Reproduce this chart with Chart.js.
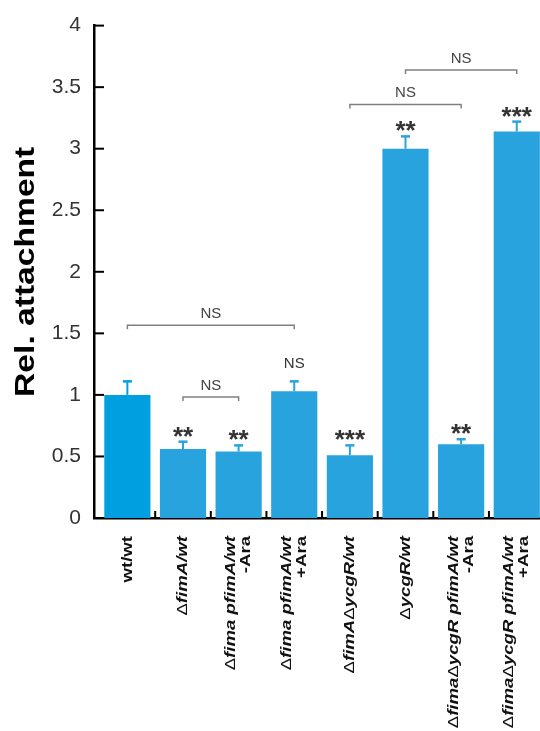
<!DOCTYPE html>
<html>
<head>
<meta charset="utf-8">
<script src="https://cdn.jsdelivr.net/npm/chart.js@4.4.1/dist/chart.umd.min.js"></script>
<style>
  html, body { margin: 0; padding: 0; background: #fff; overflow: hidden; width: 540px; height: 731px; }
  #wrap { width: 550px; height: 731px; }
</style>
</head>
<body>
<div id="wrap"><canvas id="c" width="550" height="731"></canvas></div>
<script>
// Strain / plasmid combinations (each entry = lines of the axis label)
const strains = [
  ['wt/wt'],
  ['\u0394fimA/wt'],
  ['\u0394fima pfimA/wt', '-Ara'],
  ['\u0394fima pfimA/wt', '+Ara'],
  ['\u0394fimA\u0394ycgR/wt'],
  ['\u0394ycgR/wt'],
  ['\u0394fima\u0394ycgR pfimA/wt', '-Ara'],
  ['\u0394fima\u0394ycgR pfimA/wt', '+Ara']
];
// Relative attachment (mean) and error
const attachment    = [1.00, 0.56, 0.54, 1.03, 0.51, 3.00, 0.60, 3.14];
const attachmentErr = [0.11, 0.06, 0.05, 0.08, 0.08, 0.10, 0.04, 0.08];
// Significance vs wt/wt
const significance = ['', '**', '**', 'NS', '***', '**', '**', '***'];
// Pairwise comparisons: bar indices, bracket level (axis units), label
const comparisonPairs  = [[0, 3], [1, 2], [4, 6], [5, 7]];
const comparisonLevels = [1.566, 0.982, 3.36, 3.64];
const comparisonLabels = ['NS', 'NS', 'NS', 'NS'];
// y-axis ticks
const yTicks = [0, 0.5, 1, 1.5, 2, 2.5, 3, 3.5, 4];
const yTitle = 'Rel. attachment';

const FONT = "'Liberation Sans', Arial, Helvetica, sans-serif";
const barColors = strains.map((_, i) => i === 0 ? '#009fe0' : '#29a3dd');

function labelRuns(line) {
  if (line === 'wt/wt' || /^[-+]Ara$/.test(line)) {
    return [{ text: line, font: `bold 15px ${FONT}` }];
  }
  const runs = [];
  line.split(/(\u0394)/).forEach(part => {
    if (!part) return;
    if (part === '\u0394') runs.push({ text: part, font: `15px ${FONT}` });
    else runs.push({ text: part, font: `italic bold 15px ${FONT}` });
  });
  return runs;
}

const overlay = {
  id: 'overlay',
  afterDatasetsDraw(chart) {
    const ctx = chart.ctx;
    const xs = chart.scales.x, ys = chart.scales.y;
    const area = chart.chartArea;

    // error bars
    attachment.forEach((v, i) => {
      const x = xs.getPixelForValue(i);
      const y0 = ys.getPixelForValue(v);
      const y1 = ys.getPixelForValue(v + attachmentErr[i]);
      ctx.save();
      ctx.strokeStyle = barColors[i];
      ctx.lineWidth = 2;
      ctx.beginPath(); ctx.moveTo(x, y0); ctx.lineTo(x, y1); ctx.stroke();
      ctx.lineWidth = 2.5;
      ctx.beginPath(); ctx.moveTo(x - 4.5, y1); ctx.lineTo(x + 4.5, y1); ctx.stroke();
      ctx.restore();
    });

    // significance marks above bars
    ctx.save();
    ctx.fillStyle = '#333';
    ctx.textAlign = 'center';
    ctx.textBaseline = 'alphabetic';
    significance.forEach((s, i) => {
      if (!s) return;
      const x = xs.getPixelForValue(i);
      const yc = ys.getPixelForValue(attachment[i] + attachmentErr[i]);
      if (s === 'NS') {
        ctx.font = `15px ${FONT}`;
        ctx.fillText(s, x, yc - 13);
      } else {
        ctx.font = `bold 26px ${FONT}`;
        ctx.fillText(s, x, yc + 3);
      }
    });
    ctx.restore();

    // comparison brackets
    ctx.save();
    comparisonPairs.forEach(([a, b], k) => {
      const xa = xs.getPixelForValue(a), xb = xs.getPixelForValue(b);
      const y = ys.getPixelForValue(comparisonLevels[k]);
      ctx.strokeStyle = '#808080';
      ctx.lineWidth = 1.5;
      ctx.beginPath();
      ctx.moveTo(xa, y + 4); ctx.lineTo(xa, y); ctx.lineTo(xb, y); ctx.lineTo(xb, y + 4);
      ctx.stroke();
      ctx.fillStyle = '#444';
      ctx.font = `15px ${FONT}`;
      ctx.textAlign = 'center';
      ctx.textBaseline = 'alphabetic';
      ctx.fillText(comparisonLabels[k], (xa + xb) / 2, y - 7);
    });
    ctx.restore();

    // inward tick marks on the y axis
    ctx.save();
    ctx.strokeStyle = '#000';
    ctx.lineWidth = 2;
    yTicks.forEach(v => {
      const y = ys.getPixelForValue(v);
      ctx.beginPath(); ctx.moveTo(area.left, y); ctx.lineTo(area.left + 10, y); ctx.stroke();
    });
    // inward tick marks on the x axis, between bars
    for (let i = 0; i < strains.length - 1; i++) {
      const x = xs.getPixelForValue(i + 0.5);
      ctx.beginPath(); ctx.moveTo(x, area.bottom); ctx.lineTo(x, area.bottom - 7); ctx.stroke();
    }
    ctx.restore();

    // rotated category labels
    const top = area.bottom + 18;
    const gap = 15;
    strains.forEach((lines, i) => {
      const x = xs.getPixelForValue(i);
      ctx.save();
      ctx.translate(x, top);
      ctx.rotate(-Math.PI / 2);
      ctx.scale(1.24, 1);
      ctx.fillStyle = '#111';
      ctx.textBaseline = 'middle';
      ctx.textAlign = 'left';
      lines.forEach((line, j) => {
        const off = (j - (lines.length - 1) / 2) * gap;
        const runs = labelRuns(line);
        let total = 0;
        runs.forEach(r => { ctx.font = r.font; r.w = ctx.measureText(r.text).width; total += r.w; });
        let cx = -total;
        runs.forEach(r => { ctx.font = r.font; ctx.fillText(r.text, cx, off); cx += r.w; });
      });
      ctx.restore();
    });

    // y-axis title
    ctx.save();
    ctx.translate(26, (area.top + area.bottom) / 2);
    ctx.rotate(-Math.PI / 2);
    ctx.scale(1.2, 1);
    ctx.font = `bold 28px ${FONT}`;
    ctx.fillStyle = '#000';
    ctx.textAlign = 'center';
    ctx.textBaseline = 'middle';
    ctx.fillText(yTitle, 0, 0);
    ctx.restore();
  }
};

new Chart(document.getElementById('c'), {
  type: 'bar',
  data: {
    labels: strains.map((_, i) => i),
    datasets: [{
      data: attachment,
      backgroundColor: barColors,
      borderWidth: 0,
      barPercentage: 0.83,
      categoryPercentage: 1
    }]
  },
  options: {
    responsive: false,
    animation: false,
    devicePixelRatio: 1,
    layout: { padding: { top: 25, right: 6, left: 0, bottom: 0 } },
    plugins: { legend: { display: false }, tooltip: { enabled: false } },
    scales: {
      x: {
        type: 'linear',
        min: -0.6,
        max: 7.49,
        offset: false,
        ticks: { display: false },
        grid: { display: false, drawTicks: false },
        border: { display: true, color: '#000', width: 2.5 },
        afterFit(s) { s.height = 213; }
      },
      y: {
        min: 0, max: 4,
        afterBuildTicks(s) { s.ticks = yTicks.map(v => ({ value: v })); },
        ticks: {
          font: { family: FONT, size: 21 },
          color: '#333',
          padding: 13,
          callback: v => String(v)
        },
        grid: { display: false, drawTicks: false },
        border: { display: true, color: '#000', width: 2.5 },
        afterFit(s) { s.width = 94; }
      }
    }
  },
  plugins: [overlay]
});
</script>
</body>
</html>
